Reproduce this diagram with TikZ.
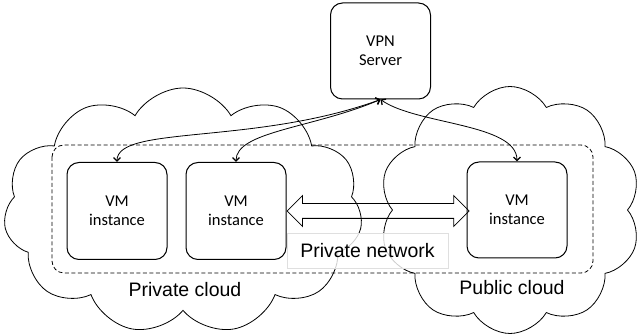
\documentclass[tikz,border=0pt]{standalone}
\usepackage{fontspec}
\setmainfont{Liberation Sans}
\newfontfamily\boxfont{Carlito}
\usetikzlibrary{positioning,%
  shapes.symbols,%
  shapes.arrows,%
  arrows.meta
}

\begin{document}
\begin{tikzpicture}[x=1pt,y=1pt,
    box/.style={draw,line width=1pt,fill=white,rounded corners=12pt,
      minimum width=100pt,minimum height=97pt,align=center,
      font=\boxfont\fontsize{16.5}{19.5}\selectfont},
    cloudy/.style={cloud,draw,line width=0.8pt,cloud puffs=11,
      cloud puff arc=120,cloud ignores aspect,inner sep=0pt},
    cloudtext/.style={font=\fontsize{19.5}{22}\selectfont},
    link/.style={line width=0.8pt,
      {Straight Barb[length=3.5pt,width=7pt,line width=1.3pt]}-{Straight Barb[length=3.5pt,width=7pt,line width=1.3pt]}},
    dblarrow/.style={double arrow,draw,line width=0.8pt,inner xsep=0pt,
      inner ysep=7pt,double arrow head extend=8pt,minimum height=182pt}]
  \useasboundingbox (0,0) rectangle (641,-336);
  % the two clouds
  \node[cloudy,minimum width=359pt,minimum height=246pt] (privcloud) at (183,-211) {};
  \node[cloudy,minimum width=262pt,minimum height=247pt,cloud puffs=10] (pubcloud) at (510,-210) {};
  % private network area
  \draw[line width=0.8pt,dash pattern=on 4pt off 2.5pt,rounded corners=12pt]
    (52,-145) rectangle (593,-273);
  \node[cloudtext] (privtext) at (185,-290) {Private cloud};
  \node[cloudtext] (pubtext) at (512,-288) {Public cloud};
  % machines
  \node[box,minimum height=96pt] (vpn) at (380.5,-51) {VPN\\Server};
  \node[box] (vm1) at (117,-211) {VM\\instance};
  \node[box,right=18pt of vm1] (vm2) {VM\\instance};
  \node[box,minimum height=96pt] (vm3) at (517,-210) {VM\\instance};
  % tunnels to the server
  \draw[link] (vpn.south) to[out=200,in=90,out looseness=1.27,in looseness=0.35] (vm1.north);
  \draw[link] (vpn.south) to[out=203,in=90,out looseness=1.2,in looseness=0.5] (vm2.north);
  \draw[link] (vpn.south) to[out=-35,in=90,out looseness=0.75,in looseness=0.65] (vm3.north);
  % private link
  \node[dblarrow,right=0pt of vm2] (net) {};
  \node[cloudtext,draw=gray!25,line width=0.5pt,fill=white,fill opacity=0.8,
    text opacity=1,minimum width=161pt,minimum height=35pt] (nettext) at (367.5,-250.5) {Private network};
\end{tikzpicture}
\end{document}
